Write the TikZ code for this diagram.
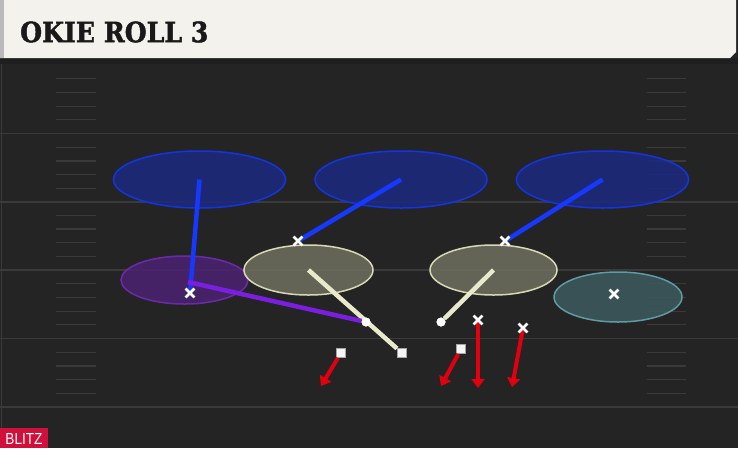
\documentclass[tikz,border=0pt]{standalone}
\usepackage{fontspec}
\usetikzlibrary{arrows.meta, shapes.geometric, shapes.misc}
\newfontfamily\titlefont{DejaVu Serif}[FakeBold=1.6]
\newfontfamily\tagfont{Liberation Sans}
\definecolor{fieldbg}{HTML}{242424}
\definecolor{yardln}{HTML}{3A3A3A}
\definecolor{titlebg}{HTML}{F4F2EC}
\definecolor{zoneblue}{HTML}{1B2A80}
\definecolor{edgeblue}{HTML}{1434E0}
\definecolor{rteblue}{HTML}{1638FF}
\definecolor{zonepurple}{HTML}{4B2272}
\definecolor{edgepurple}{HTML}{6B2BA8}
\definecolor{rtepurple}{HTML}{7A1FE0}
\definecolor{zonecream}{HTML}{6F705F}
\definecolor{edgecream}{HTML}{D8D9B5}
\definecolor{rtecream}{HTML}{E8EACB}
\definecolor{zoneteal}{HTML}{3D5B5E}
\definecolor{edgeteal}{HTML}{5E9BA3}
\definecolor{blitzred}{HTML}{E00010}
\definecolor{tagred}{HTML}{D0103A}

\begin{document}
\begin{tikzpicture}[x=1pt, y=-1pt,
  zone/.style={ellipse, inner sep=0pt, line width=1.5pt, fill opacity=0.85},
  deepzone/.style={zone, fill=zoneblue, draw=edgeblue, minimum width=172pt, minimum height=57pt},
  route/.style={line width=4.5pt},
  rush/.style={line width=4pt, blitzred, -{Triangle[length=9pt, width=13pt]}},
  xmark/.style={cross out, draw=white, line width=2.8pt, minimum size=6pt, inner sep=0pt},
  sqmark/.style={rectangle, fill=white!92!gray, draw=gray!70, line width=0.6pt, minimum size=9.5pt, inner sep=0pt},
  dotmark/.style={circle, fill=white, minimum size=9pt, inner sep=0pt}]
\useasboundingbox (0,0) rectangle (738,448);
\fill[fieldbg] (0,0) rectangle (738,448);
%Field
\foreach \yl in {133.5, 202, 270, 338.5, 407}
  \draw[yardln, line width=1.8pt] (0,\yl) -- (738,\yl);
\foreach \yb in {133.5, 202, 270, 338.5, 407}
  \foreach \k in {1,...,4} {
    \draw[yardln, line width=1.2pt] (56,\yb-\k*13.7) -- (96,\yb-\k*13.7);
    \draw[yardln, line width=1.2pt] (647,\yb-\k*13.7) -- (686,\yb-\k*13.7);
  }
\draw[yardln, line width=1.5pt] (1.5,64) -- (1.5,448);
%Title
\fill[black!88] (0,58) rectangle (738,64);
\fill[titlebg] (0,0) -- (736,0) -- (736,52) -- (730,58) -- (0,58) -- cycle;
\fill[gray!55] (0,0) rectangle (4,58);
\node[anchor=west, inner sep=0pt, text=black!90, xscale=0.9] (title) at (20,32)
  {\titlefont\bfseries\fontsize{28}{28}\selectfont OKIE ROLL 3};
\fill[tagred] (0,428) rectangle (48,448);
\node[inner sep=0pt, text=white, xscale=0.85] (tag) at (24,438.5)
  {\tagfont\fontsize{16}{16}\selectfont BLITZ};
%Zones
\node[deepzone] (deepL) at (199.5,179.5) {};
\node[deepzone] (deepM) at (401,179.5) {};
\node[deepzone] (deepR) at (602.5,179.5) {};
\node[zone, fill=zonepurple, draw=edgepurple, minimum width=127pt, minimum height=48pt] (flatL) at (184.5,280) {};
\node[zone, fill=zonecream, draw=edgecream, minimum width=129pt, minimum height=50pt] (hookL) at (308.5,270) {};
\node[zone, fill=zonecream, draw=edgecream, minimum width=127pt, minimum height=50pt] (hookR) at (493.5,270) {};
\node[zone, fill=zoneteal, draw=edgeteal, minimum width=128pt, minimum height=50pt] (flatR) at (618,297) {};
%Players
\coordinate (cbL) at (190,293);
\coordinate (lbL) at (298,241);
\coordinate (lbR) at (505,241);
\coordinate (cbR) at (614,294);
\node[dotmark] (spotL) at (366,322) {};
\node[dotmark] (spotR) at (441,322) {};
\node[sqmark] (dl1) at (341,353) {};
\node[sqmark] (dl2) at (402,353) {};
\node[sqmark] (dl3) at (461,349) {};
\coordinate (ol4) at (478,320);
\coordinate (ol5) at (523,328);
\coordinate (end1) at (321,386);
\coordinate (end3) at (441,386);
\coordinate (end4) at (478,388);
\coordinate (end5) at (512,387);
%Routes
\draw[route, rteblue] (cbL) -- (deepL.center);
\draw[route, rteblue] (lbL) -- (deepM.center);
\draw[route, rteblue] (lbR) -- (deepR.center);
\draw[route, rtecream] (hookL.center) -- (dl2);
\draw[route, rtecream] (hookR.center) -- (spotR);
\draw[route, rtepurple] (188,282) -- (spotL);
\draw[rush] (dl1) -- (end1);
\draw[rush] (dl3) -- (end3);
\draw[rush] (ol4) -- (end4);
\draw[rush] (ol5) -- (end5);
\node[dotmark] at (spotL) {};
\node[dotmark] at (spotR) {};
\node[sqmark] at (dl2) {};
\node[xmark] at (cbL) {};
\node[xmark] at (lbL) {};
\node[xmark] at (lbR) {};
\node[xmark] at (ol4) {};
\node[xmark] at (ol5) {};
\node[xmark] at (cbR) {};
\end{tikzpicture}
\end{document}
